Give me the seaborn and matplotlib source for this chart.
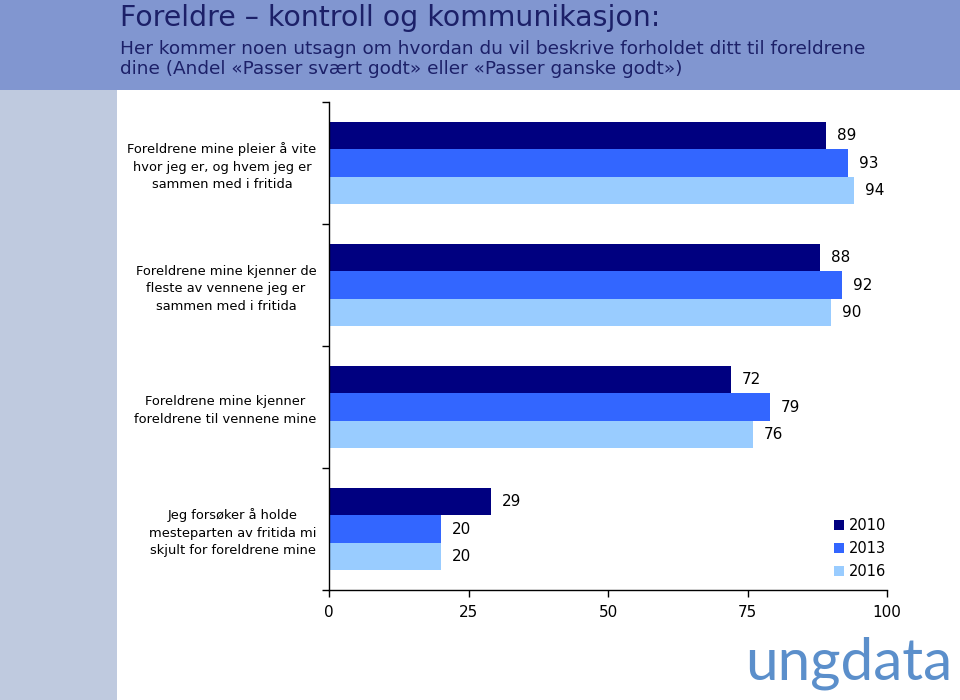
import matplotlib
matplotlib.use("Agg")
import matplotlib.pyplot as plt
import matplotlib.patches as mpatches
import seaborn as sns
import pandas as pd
from matplotlib.ticker import FixedLocator

categories = [
    "Foreldrene mine pleier å vite\nhvor jeg er, og hvem jeg er\nsammen med i fritida",
    "Foreldrene mine kjenner de\nfleste av vennene jeg er\nsammen med i fritida",
    "Foreldrene mine kjenner\nforeldrene til vennene mine",
    "Jeg forsøker å holde\nmesteparten av fritida mi\nskjult for foreldrene mine",
]
years = ["2010", "2013", "2016"]
values_2010 = [89, 88, 72, 29]
values_2013 = [93, 92, 79, 20]
values_2016 = [94, 90, 76, 20]
colors = ["#000080", "#3366FF", "#99CCFF"]
x_ticks = [0, 25, 50, 75, 100]

title = "Foreldre – kontroll og kommunikasjon:"
subtitle = ("Her kommer noen utsagn om hvordan du vil beskrive forholdet ditt til foreldrene\n"
            "dine (Andel «Passer svært godt» eller «Passer ganske godt»)")

rows = []
for yr, vals in zip(years, [values_2010, values_2013, values_2016]):
    for c, v in zip(categories, vals):
        rows.append({"kategori": c, "år": yr, "verdi": v})
df = pd.DataFrame(rows)

sns.set_theme(style="white")
plt.rcParams["font.family"] = ["DejaVu Sans"]
plt.rcParams["text.color"] = "black"
plt.rcParams["xtick.color"] = "black"
plt.rcParams["ytick.color"] = "black"

fig = plt.figure(figsize=(9.6, 7.0), dpi=100)
fig.patch.set_facecolor("white")

# background bands
fig.add_artist(mpatches.Rectangle((0, (700 - 90) / 700), 1, 90 / 700,
                                  transform=fig.transFigure, facecolor="#8196D0",
                                  edgecolor="none", zorder=0))
fig.add_artist(mpatches.Rectangle((0, 0), 117 / 960, (700 - 90) / 700,
                                  transform=fig.transFigure, facecolor="#BFCADF",
                                  edgecolor="none", zorder=0))

fig.text(120 / 960, 1 - 18 / 700, title, fontsize=20.4,
         color="#1C2068", va="center", ha="left")
fig.text(120 / 960, 1 - 59 / 700, subtitle, fontsize=13.3,
         color="#1C2068", va="center", ha="left", linespacing=1.12)

ax = fig.add_axes([329 / 960, 110 / 700, 558 / 960, 488 / 700])
sns.barplot(data=df, y="kategori", x="verdi", hue="år", hue_order=years,
            palette=colors, orient="h", width=0.67, saturation=1,
            edgecolor="none", ax=ax, legend=True)

for cont in ax.containers:
    ax.bar_label(cont, padding=8, fontsize=11, color="black")

ax.set_xlim(0, 100)
ax.set_ylim(3.5, -0.5)
ax.set_xticks(x_ticks)
ax.set_xticklabels([str(t) for t in x_ticks], fontsize=11, color="black")
ax.set_xlabel("")
ax.set_ylabel("")
ax.set_yticks(range(len(categories)))
ax.set_yticklabels(categories, fontsize=9.4, multialignment="center", linespacing=1.45,
                   color="black")
ax.yaxis.set_minor_locator(FixedLocator([-0.5, 0.5, 1.5, 2.5, 3.5]))
ax.tick_params(axis="y", which="major", length=0, pad=9)
ax.tick_params(axis="y", which="minor", length=5, width=1, color="black", direction="out", left=True)
ax.tick_params(axis="x", which="major", length=5, width=1, color="black", direction="out",
               bottom=True, pad=6)
for s in ["top", "right"]:
    ax.spines[s].set_visible(False)
for s in ["left", "bottom"]:
    ax.spines[s].set_color("black")
    ax.spines[s].set_linewidth(1)
ax.set_facecolor("white")

leg = ax.legend(loc="center left", bbox_to_anchor=(0.895, 0.085), frameon=False,
                fontsize=10.5, handlelength=0.7, handleheight=0.7, handletextpad=0.3,
                labelspacing=0.55, borderaxespad=0)
for t in leg.get_texts():
    t.set_color("black")

fig.text(745 / 960, 1 - 679 / 700, "ungdata", family=["Lato", "DejaVu Sans"],
         fontweight="normal", fontsize=42, color="#5B8FCB", ha="left", va="baseline")

fig.savefig("out.png", dpi=100)
